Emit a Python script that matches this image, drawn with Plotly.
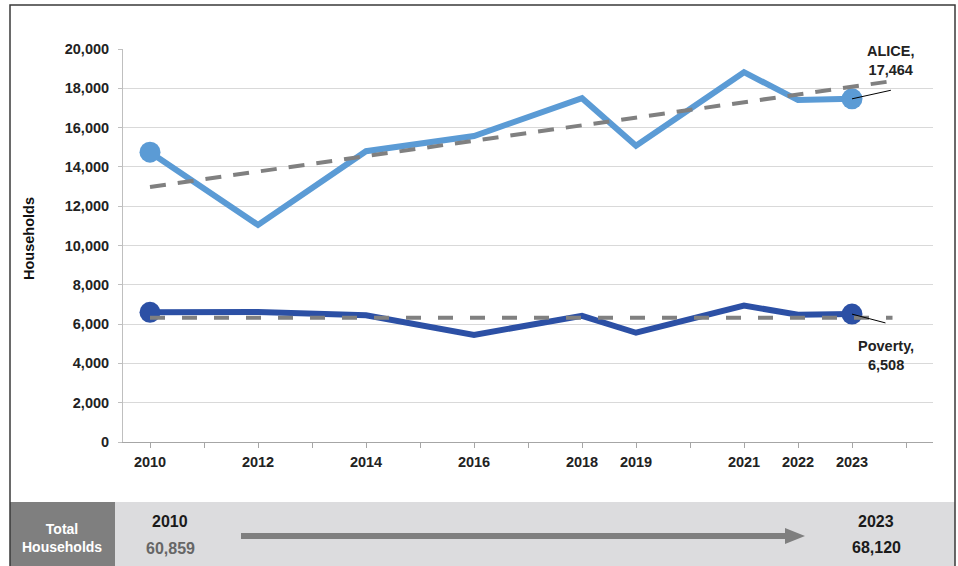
import plotly.graph_objects as go

# ---- data ----
years = [2010, 2012, 2014, 2016, 2018, 2019, 2021, 2022, 2023]
year_labels = ["2010", "2012", "2014", "2016", "2018", "2019", "2021", "2022", "2023"]
alice = [14750, 11050, 14800, 15570, 17500, 15080, 18820, 17400, 17464]
poverty = [6600, 6620, 6450, 5450, 6420, 5560, 6940, 6480, 6508]
trend_years = [2010, 2023.75]
alice_trend = [12980, 18370]
poverty_trend = [6320, 6320]
y_ticks = [0, 2000, 4000, 6000, 8000, 10000, 12000, 14000, 16000, 18000, 20000]
y_tick_labels = ["0", "2,000", "4,000", "6,000", "8,000", "10,000", "12,000",
                 "14,000", "16,000", "18,000", "20,000"]
total_start_year, total_start = "2010", "60,859"
total_end_year, total_end = "2023", "68,120"

ALICE_C = "#5b9bd5"
POV_C = "#2c50a5"
TREND_C = "#808080"
FONT = "Liberation Sans, Arial, sans-serif"

all_years = list(range(2010, 2025))
all_labels = [year_labels[years.index(y)] if y in years else "" for y in all_years]

fig = go.Figure()

fig.add_trace(go.Scatter(
    x=years, y=alice, mode="lines", line=dict(color=ALICE_C, width=6),
    hoverinfo="skip"))
fig.add_trace(go.Scatter(
    x=[years[0], years[-1]], y=[alice[0], alice[-1]], mode="markers",
    marker=dict(color=ALICE_C, size=21), hoverinfo="skip"))
fig.add_trace(go.Scatter(
    x=years, y=poverty, mode="lines", line=dict(color=POV_C, width=6),
    hoverinfo="skip"))
fig.add_trace(go.Scatter(
    x=[years[0], years[-1]], y=[poverty[0], poverty[-1]], mode="markers",
    marker=dict(color=POV_C, size=21), hoverinfo="skip"))
fig.add_trace(go.Scatter(
    x=trend_years, y=alice_trend, mode="lines",
    line=dict(color=TREND_C, width=4, dash="16px,12px"), hoverinfo="skip"))
fig.add_trace(go.Scatter(
    x=trend_years, y=poverty_trend, mode="lines",
    line=dict(color=TREND_C, width=4, dash="15px,17px"), hoverinfo="skip"))
# leader lines
fig.add_trace(go.Scatter(
    x=[2023.0, 2023.72], y=[alice[-1], 17900], mode="lines",
    line=dict(color="#000000", width=1), hoverinfo="skip"))
fig.add_trace(go.Scatter(
    x=[2023.0, 2023.62], y=[poverty[-1], 6060], mode="lines",
    line=dict(color="#000000", width=1), hoverinfo="skip"))

# plot area in pixels: x 123..933, y 49..442
L, R, T, B = 123, 933, 49, 442
W, H = R - L, B - T


def px(x):
    return (x - L) / W


def py(y):
    return (B - y) / H


shapes = [
    # bottom panel
    dict(type="rect", xref="paper", yref="paper", x0=px(10), x1=px(955),
         y0=py(580), y1=py(502), fillcolor="#dcdcde", line=dict(width=0), layer="below"),
    dict(type="rect", xref="paper", yref="paper", x0=px(10), x1=px(115),
         y0=py(580), y1=py(502), fillcolor="#7f7f7f", line=dict(width=0), layer="below"),
    # arrow shaft
    dict(type="rect", xref="paper", yref="paper", x0=px(241), x1=px(787),
         y0=py(539), y1=py(533), fillcolor="#7f7f7f", line=dict(width=0)),
    # arrow head
    dict(type="path", xref="paper", yref="paper",
         path=f"M {px(785)} {py(528)} L {px(805)} {py(536)} L {px(785)} {py(544)} Z",
         fillcolor="#7f7f7f", line=dict(width=0)),
    # outer border
    dict(type="rect", xref="paper", yref="paper", x0=px(10), x1=px(955),
         y0=py(580), y1=py(5), line=dict(color="#3a3a3a", width=1.5)),
]


def para(x, y, text, size, color, angle=0):
    return dict(x=px(x), y=py(y), xref="paper", yref="paper", text=text,
                xanchor="center", yanchor="middle", textangle=angle, showarrow=False,
                font=dict(size=size, color=color, family=FONT, weight="bold"))


annotations = [
    dict(x=2023.72, y=19420, xref="x", yref="y", text="ALICE,<br>17,464",
         xanchor="center", yanchor="middle", showarrow=False,
         font=dict(size=14.5, color="#222222", family=FONT, weight="bold")),
    dict(x=2023.63, y=4420, xref="x", yref="y", text="Poverty,<br>6,508",
         xanchor="center", yanchor="middle", showarrow=False,
         font=dict(size=14.5, color="#222222", family=FONT, weight="bold")),
    para(29, 239, "Households", 14.5, "#111111", -90),
    para(62, 538, "Total<br>Households", 14, "#ffffff"),
    para(170, 521, total_start_year, 16, "#1a1a1a"),
    para(170, 548, total_start, 16, "#666666"),
    para(876, 521, total_end_year, 16, "#1a1a1a"),
    para(876, 547, total_end, 16, "#1a1a1a"),
]

fig.update_layout(
    width=958, height=566,
    margin=dict(l=L, r=958 - R, t=T, b=566 - B, pad=0),
    paper_bgcolor="#ffffff", plot_bgcolor="#ffffff",
    showlegend=False,
    font=dict(family=FONT, color="#222222"),
    shapes=shapes, annotations=annotations,
    xaxis=dict(
        range=[2009.5, 2024.5], tickmode="array", tickvals=all_years, ticktext=all_labels,
        showgrid=False, zeroline=False, showline=True, linecolor="#a6a6a6", linewidth=1,
        ticks="outside", ticklen=5, tickcolor="#a6a6a6", ticklabelstandoff=2,
        tickfont=dict(size=14.5, color="#222222", family=FONT, weight="bold"),
        fixedrange=True,
    ),
    yaxis=dict(
        range=[0, 20000], tickmode="array", tickvals=y_ticks, ticktext=y_tick_labels,
        showgrid=True, gridcolor="#d9d9d9", gridwidth=1, zeroline=False,
        showline=True, linecolor="#bfbfbf", linewidth=1,
        ticks="outside", ticklen=4, tickcolor="#bfbfbf", ticklabelstandoff=6,
        tickfont=dict(size=14.5, color="#222222", family=FONT, weight="bold"),
        fixedrange=True,
    ),
)

fig.write_html("out.html", config={"displayModeBar": False},
               post_script="document.body.style.margin='0';document.body.style.padding='0';")
